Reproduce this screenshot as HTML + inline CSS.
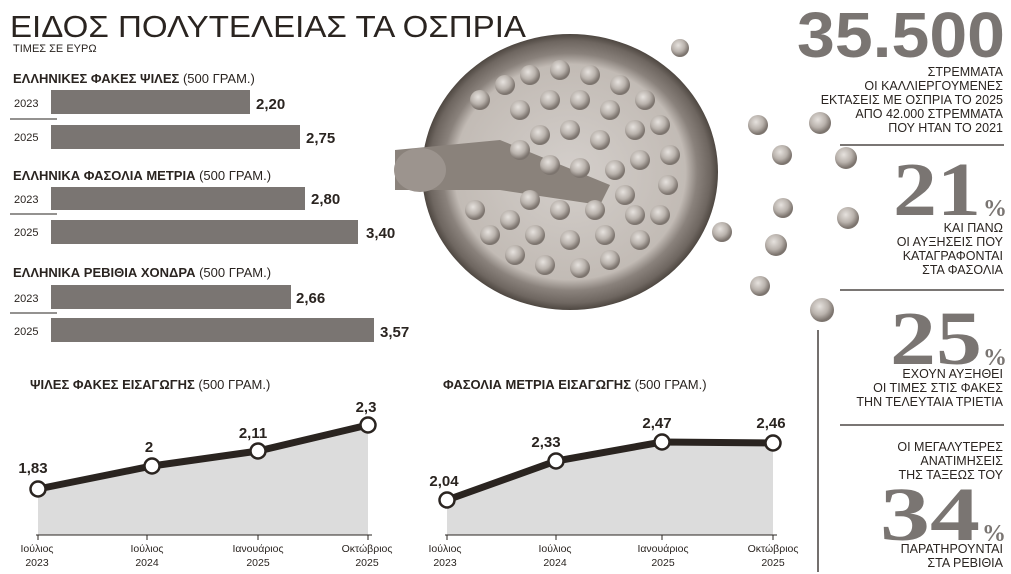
<!DOCTYPE html>
<html><head><meta charset="utf-8"><style>
html,body{margin:0;padding:0;background:#fff;width:1011px;height:574px;overflow:hidden}
svg{display:block;font-family:"Liberation Sans","DejaVu Sans",sans-serif}
</style></head><body>
<svg width="1011" height="574" viewBox="0 0 1011 574" xmlns="http://www.w3.org/2000/svg">
<defs>
<radialGradient id="bowl" cx="50%" cy="50%" r="50%">
<stop offset="0" stop-color="#d4cfcb"/><stop offset="0.78" stop-color="#c2bbb5"/><stop offset="0.86" stop-color="#8a827c"/><stop offset="0.95" stop-color="#6e6660"/><stop offset="1" stop-color="#4e4741"/></radialGradient>
<radialGradient id="pea" cx="40%" cy="35%" r="60%"><stop offset="0" stop-color="#e6e2de"/><stop offset="0.6" stop-color="#b9b2ac"/><stop offset="1" stop-color="#7c746e"/></radialGradient>
</defs>
<g fill="#2a2420">
<text x="10" y="37" font-size="31" font-weight="300" textLength="516" lengthAdjust="spacingAndGlyphs">ΕΙΔΟΣ ΠΟΛΥΤΕΛΕΙΑΣ ΤΑ ΟΣΠΡΙΑ</text>
<text x="13" y="52" font-size="11">ΤΙΜΕΣ ΣΕ ΕΥΡΩ</text>
<text x="13" y="83" font-size="13"><tspan font-weight="bold">ΕΛΛΗΝΙΚΕΣ ΦΑΚΕΣ ΨΙΛΕΣ</tspan> (500 ΓΡΑΜ.)</text>
<text x="13" y="180" font-size="13"><tspan font-weight="bold">ΕΛΛΗΝΙΚΑ ΦΑΣΟΛΙΑ ΜΕΤΡΙΑ</tspan> (500 ΓΡΑΜ.)</text>
<text x="13" y="277" font-size="13"><tspan font-weight="bold">ΕΛΛΗΝΙΚΑ ΡΕΒΙΘΙΑ ΧΟΝΔΡΑ</tspan> (500 ΓΡΑΜ.)</text>
<g font-size="11"><text x="14" y="107">2023</text><text x="14" y="141">2025</text><text x="14" y="203">2023</text><text x="14" y="236">2025</text><text x="14" y="302">2023</text><text x="14" y="335">2025</text></g>
<g font-size="15" font-weight="bold"><text x="256" y="109">2,20</text><text x="306" y="143">2,75</text><text x="311" y="204">2,80</text><text x="366" y="238">3,40</text><text x="296" y="303">2,66</text><text x="380" y="337">3,57</text></g>
</g>
<g fill="#7a7572">
<rect x="51" y="90" width="199" height="24"/><rect x="51" y="125" width="249" height="24"/>
<rect x="51" y="187" width="254" height="23"/><rect x="51" y="220" width="307" height="24"/>
<rect x="51" y="285" width="240" height="24"/><rect x="51" y="318" width="323" height="24"/>
</g>
<g stroke="#2a2420" stroke-width="1"><line x1="10" y1="119" x2="57" y2="119"/><line x1="10" y1="214" x2="57" y2="214"/><line x1="10" y1="313" x2="57" y2="313"/></g>

<!-- bowl -->
<ellipse cx="570" cy="172" rx="148" ry="138" fill="url(#bowl)"/>
<path d="M395 150 L500 140 L610 185 L600 205 L500 190 L395 190 Z" fill="#8a827b"/>
<ellipse cx="420" cy="170" rx="26" ry="22" fill="#9c948e"/>
<g fill="url(#pea)">
<circle cx="480" cy="100" r="10"/><circle cx="505" cy="85" r="10"/><circle cx="530" cy="75" r="10"/><circle cx="560" cy="70" r="10"/><circle cx="590" cy="75" r="10"/><circle cx="620" cy="85" r="10"/><circle cx="645" cy="100" r="10"/><circle cx="660" cy="125" r="10"/><circle cx="670" cy="155" r="10"/><circle cx="668" cy="185" r="10"/><circle cx="660" cy="215" r="10"/><circle cx="640" cy="240" r="10"/><circle cx="610" cy="260" r="10"/><circle cx="580" cy="268" r="10"/><circle cx="545" cy="265" r="10"/><circle cx="515" cy="255" r="10"/><circle cx="490" cy="235" r="10"/><circle cx="475" cy="210" r="10"/>
<circle cx="520" cy="110" r="10"/><circle cx="550" cy="100" r="10"/><circle cx="580" cy="100" r="10"/><circle cx="610" cy="110" r="10"/><circle cx="635" cy="130" r="10"/><circle cx="640" cy="160" r="10"/><circle cx="635" cy="215" r="10"/><circle cx="605" cy="235" r="10"/><circle cx="570" cy="240" r="10"/><circle cx="535" cy="235" r="10"/><circle cx="510" cy="220" r="10"/>
<circle cx="540" cy="135" r="10"/><circle cx="570" cy="130" r="10"/><circle cx="600" cy="140" r="10"/><circle cx="520" cy="150" r="10"/><circle cx="550" cy="165" r="10"/><circle cx="580" cy="168" r="10"/><circle cx="615" cy="170" r="10"/><circle cx="625" cy="195" r="10"/><circle cx="595" cy="210" r="10"/><circle cx="560" cy="210" r="10"/><circle cx="530" cy="200" r="10"/>
<circle cx="680" cy="48" r="9"/><circle cx="758" cy="125" r="10"/><circle cx="820" cy="123" r="11"/><circle cx="782" cy="155" r="10"/><circle cx="846" cy="158" r="11"/><circle cx="783" cy="208" r="10"/><circle cx="848" cy="218" r="11"/><circle cx="722" cy="232" r="10"/><circle cx="776" cy="245" r="11"/><circle cx="760" cy="286" r="10"/><circle cx="822" cy="310" r="12"/>
</g>

<!-- right column -->
<g fill="#7a7572" font-weight="bold">
<text x="797" y="57" font-size="64" textLength="208" lengthAdjust="spacingAndGlyphs">35.500</text>
<g font-family="Liberation Serif,serif">
<text x="893" y="215" font-size="76" textLength="88" lengthAdjust="spacingAndGlyphs">21</text><text x="983" y="216" font-size="24">%</text>
<text x="890" y="364" font-size="76" textLength="92" lengthAdjust="spacingAndGlyphs">25</text><text x="983" y="365" font-size="24">%</text>
<text x="880" y="540" font-size="76" textLength="100" lengthAdjust="spacingAndGlyphs">34</text><text x="982" y="541" font-size="24">%</text>
</g></g>
<g fill="#2a2420" font-size="12.5" text-anchor="end">
<text x="1003" y="76">ΣΤΡΕΜΜΑΤΑ</text><text x="1003" y="90">ΟΙ ΚΑΛΛΙΕΡΓΟΥΜΕΝΕΣ</text><text x="1003" y="104">ΕΚΤΑΣΕΙΣ ΜΕ ΟΣΠΡΙΑ ΤΟ 2025</text><text x="1003" y="118">ΑΠΟ 42.000 ΣΤΡΕΜΜΑΤΑ</text><text x="1003" y="132">ΠΟΥ ΗΤΑΝ ΤΟ 2021</text>
<text x="1003" y="232">ΚΑΙ ΠΑΝΩ</text><text x="1003" y="246">ΟΙ ΑΥΞΗΣΕΙΣ ΠΟΥ</text><text x="1003" y="260">ΚΑΤΑΓΡΑΦΟΝΤΑΙ</text><text x="1003" y="274">ΣΤΑ ΦΑΣΟΛΙΑ</text>
<text x="1003" y="378">ΕΧΟΥΝ ΑΥΞΗΘΕΙ</text><text x="1003" y="392">ΟΙ ΤΙΜΕΣ ΣΤΙΣ ΦΑΚΕΣ</text><text x="1003" y="406">ΤΗΝ ΤΕΛΕΥΤΑΙΑ ΤΡΙΕΤΙΑ</text>
<text x="1003" y="451">ΟΙ ΜΕΓΑΛΥΤΕΡΕΣ</text><text x="1003" y="465">ΑΝΑΤΙΜΗΣΕΙΣ</text><text x="1003" y="479">ΤΗΣ ΤΑΞΕΩΣ ΤΟΥ</text>
<text x="1003" y="553">ΠΑΡΑΤΗΡΟΥΝΤΑΙ</text><text x="1003" y="567">ΣΤΑ ΡΕΒΙΘΙΑ</text>
</g>
<g stroke="#2a2420" stroke-width="1.3"><line x1="840" y1="145" x2="1004" y2="145"/><line x1="840" y1="290" x2="1004" y2="290"/><line x1="840" y1="425" x2="1004" y2="425"/><line x1="818" y1="330" x2="818" y2="572"/></g>

<!-- line chart 1 -->
<text x="30" y="389" font-size="13" fill="#2a2420"><tspan font-weight="bold">ΨΙΛΕΣ ΦΑΚΕΣ ΕΙΣΑΓΩΓΗΣ</tspan> (500 ΓΡΑΜ.)</text>
<path d="M38 489 L152 466 L258 451 L368 425 L368 535 L38 535 Z" fill="#dcdcdc"/>
<line x1="36" y1="535" x2="372" y2="535" stroke="#2a2420" stroke-width="1"/>
<g stroke="#2a2420"><line x1="38" y1="535" x2="38" y2="540"/><line x1="147" y1="535" x2="147" y2="540"/><line x1="258" y1="535" x2="258" y2="540"/><line x1="368" y1="535" x2="368" y2="540"/></g>
<polyline points="38,489 152,466 258,451 368,425" fill="none" stroke="#2a2420" stroke-width="7"/>
<g fill="#fff" stroke="#2a2420" stroke-width="2.5"><circle cx="38" cy="489" r="7.5"/><circle cx="152" cy="466" r="7.5"/><circle cx="258" cy="451" r="7.5"/><circle cx="368" cy="425" r="7.5"/></g>
<g font-size="15" font-weight="bold" fill="#2a2420" text-anchor="middle"><text x="33" y="473">1,83</text><text x="149" y="452">2</text><text x="253" y="438">2,11</text><text x="366" y="412">2,3</text></g>
<g font-size="10.5" fill="#2a2420" text-anchor="middle"><text x="37" y="552">Ιούλιος</text><text x="37" y="566">2023</text><text x="147" y="552">Ιούλιος</text><text x="147" y="566">2024</text><text x="258" y="552">Ιανουάριος</text><text x="258" y="566">2025</text><text x="367" y="552">Οκτώβριος</text><text x="367" y="566">2025</text></g>

<!-- line chart 2 -->
<text x="443" y="389" font-size="13" fill="#2a2420"><tspan font-weight="bold">ΦΑΣΟΛΙΑ ΜΕΤΡΙΑ ΕΙΣΑΓΩΓΗΣ</tspan> (500 ΓΡΑΜ.)</text>
<path d="M447 500 L556 461 L662 442 L773 443 L773 535 L447 535 Z" fill="#dcdcdc"/>
<line x1="445" y1="535" x2="777" y2="535" stroke="#2a2420" stroke-width="1"/>
<g stroke="#2a2420"><line x1="447" y1="535" x2="447" y2="540"/><line x1="556" y1="535" x2="556" y2="540"/><line x1="662" y1="535" x2="662" y2="540"/><line x1="773" y1="535" x2="773" y2="540"/></g>
<polyline points="447,500 556,461 662,442 773,443" fill="none" stroke="#2a2420" stroke-width="7"/>
<g fill="#fff" stroke="#2a2420" stroke-width="2.5"><circle cx="447" cy="500" r="7.5"/><circle cx="556" cy="461" r="7.5"/><circle cx="662" cy="442" r="7.5"/><circle cx="773" cy="443" r="7.5"/></g>
<g font-size="15" font-weight="bold" fill="#2a2420" text-anchor="middle"><text x="444" y="486">2,04</text><text x="546" y="447">2,33</text><text x="657" y="428">2,47</text><text x="771" y="428">2,46</text></g>
<g font-size="10.5" fill="#2a2420" text-anchor="middle"><text x="445" y="552">Ιούλιος</text><text x="445" y="566">2023</text><text x="555" y="552">Ιούλιος</text><text x="555" y="566">2024</text><text x="663" y="552">Ιανουάριος</text><text x="663" y="566">2025</text><text x="773" y="552">Οκτώβριος</text><text x="773" y="566">2025</text></g>
</svg>
</body></html>
